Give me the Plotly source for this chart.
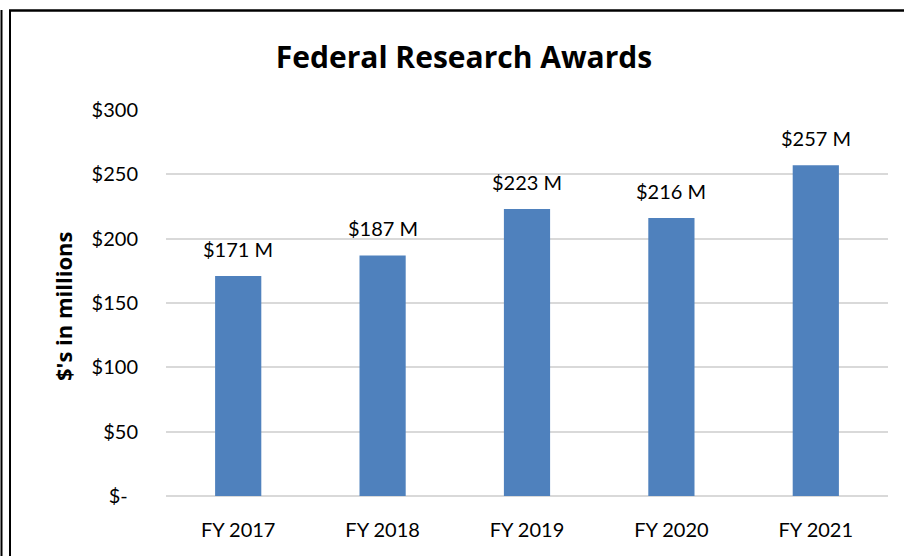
import plotly.graph_objects as go

categories = ["FY 2017", "FY 2018", "FY 2019", "FY 2020", "FY 2021"]
awards = [171, 187, 223, 216, 257]
label_text = ["$171 M", "$187 M", "$223 M", "$216 M", "$257 M"]
tick_vals = [0, 50, 100, 150, 200, 250, 300]
tick_text = ["$-\u00a0\u00a0", "$50", "$100", "$150", "$200", "$250", "$300"]

W, H = 904, 556
L, R, T, B = 166, 16, 110, 60
FONT = "Lato, Carlito, Calibri, sans-serif"
BOLD = "'Open Sans', Lato, sans-serif"

def px_x(p):
    return (p - L) / (W - L - R)

def px_y(p):
    return (H - B - p) / (H - T - B)

fig = go.Figure()
fig.add_trace(go.Bar(
    x=categories, y=awards, width=0.32,
    marker=dict(color="#4f81bd", line=dict(width=0)),
    hoverinfo="skip",
))

for c, v, t in zip(categories, awards, label_text):
    fig.add_annotation(x=c, y=v, text=t, showarrow=False, yanchor="bottom",
                       yshift=13, font=dict(family=FONT, size=20, color="#000"))

fig.add_annotation(xref="paper", yref="paper", x=px_x(63), y=px_y(306),
                   text="<b>$'s in millions</b>", textangle=-90, showarrow=False,
                   xanchor="center", yanchor="middle",
                   font=dict(family=BOLD, size=22, color="#000"))

line = dict(color="#000", width=2)
fig.add_shape(type="line", xref="paper", yref="paper", x0=px_x(9), x1=px_x(906),
              y0=px_y(10.5), y1=px_y(10.5), line=dict(color="#000", width=2.5))
fig.add_shape(type="line", xref="paper", yref="paper", x0=px_x(10), x1=px_x(10),
              y0=px_y(10), y1=px_y(560), line=line)
fig.add_shape(type="line", xref="paper", yref="paper", x0=px_x(1.5), x1=px_x(1.5),
              y0=px_y(10), y1=px_y(560), line=line)

fig.update_layout(
    width=W, height=H,
    margin=dict(l=L, r=R, t=T, b=B),
    paper_bgcolor="white", plot_bgcolor="white",
    showlegend=False,
    title=dict(text="<b>Federal Research Awards</b>", xref="paper", x=px_x(464),
               xanchor="center", yref="container", y=1 - 57 / H, yanchor="middle",
               font=dict(family=BOLD, size=30, color="#000")),
    font=dict(family=FONT, size=20, color="#000"),
)
fig.update_xaxes(showgrid=False, showline=False, ticks="", ticklabelstandoff=20,
                 tickfont=dict(family=FONT, size=20, color="#000"))
fig.update_yaxes(range=[0, 300], tickvals=tick_vals, ticktext=tick_text,
                 showgrid=True, gridcolor="#d9d9d9", gridwidth=1.5,
                 zeroline=True, zerolinecolor="#d9d9d9", zerolinewidth=1.5,
                 showline=False, ticks="", ticklabelstandoff=27,
                 tickfont=dict(family=FONT, size=20, color="#000"))

fig.write_html("out.html", config={"displayModeBar": False},
               post_script="document.body.style.margin='0';document.body.style.overflow='hidden';")
